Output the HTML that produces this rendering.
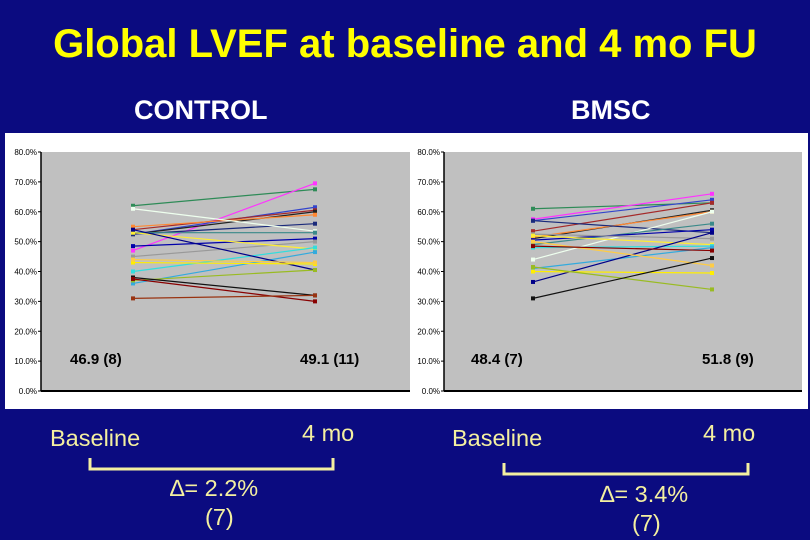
<!DOCTYPE html>
<html><head><meta charset="utf-8"><style>
body{margin:0;width:810px;height:540px;background:#0b0b80;overflow:hidden;font-family:"Liberation Sans",sans-serif;position:relative}
.t{position:absolute;white-space:nowrap}
</style></head><body>
<div class="t" style="left:0;width:810px;text-align:center;top:22px;font-size:40px;font-weight:bold;color:#ffff00">Global LVEF at baseline and 4 mo FU</div>
<div class="t" style="left:134px;top:95px;font-size:27px;font-weight:bold;color:#fff">CONTROL</div>
<div class="t" style="left:571px;top:95px;font-size:27px;font-weight:bold;color:#fff">BMSC</div>
<svg id="svg" width="810" height="540" style="position:absolute;left:0;top:0"></svg>
<div class="t" style="left:50px;top:425px;font-size:23.5px;color:#f4f0a0">Baseline</div>
<div class="t" style="left:302px;top:420px;font-size:23.5px;color:#f4f0a0">4 mo</div>
<div class="t" style="left:170px;top:475px;font-size:23.5px;color:#f4f0a0">∆= 2.2%</div>
<div class="t" style="left:205px;top:504px;font-size:23.5px;color:#f4f0a0">(7)</div>
<div class="t" style="left:452px;top:425px;font-size:23.5px;color:#f4f0a0">Baseline</div>
<div class="t" style="left:703px;top:420px;font-size:23.5px;color:#f4f0a0">4 mo</div>
<div class="t" style="left:600px;top:481px;font-size:23.5px;color:#f4f0a0">∆= 3.4%</div>
<div class="t" style="left:632px;top:510px;font-size:23.5px;color:#f4f0a0">(7)</div>
<script>
const yTicks=[0,10,20,30,40,50,60,70,80];
const controlBase=[62,47,52.5,54,52.5,55,52.5,61,53,48.5,45,53,40,36,54,43,44,37,38,37.5,31];
const controlFU=[67.5,69.5,61.5,60.5,60,59,56,53.5,53,51,50,47.5,48,46.5,40.5,42.5,43,40.5,32,30,32];
const bmscBase=[61,57.5,57,53.5,51,51.5,57,44,49,50.5,52.5,52,48,41,36.5,40,50,41.5,31,48.5];
const bmscFU=[63,66,64,63,60.5,60,53,60,56,54,51,49,48.5,48,53,39.5,42,34,44.5,47];
const controlMeans=["46.9 (8)","49.1 (11)"];
const bmscMeans=["48.4 (7)","51.8 (9)"];
const colors=["#2e8b57","#ff33ff","#3344cc","#a52a2a","#222222","#ff8833","#1a2a7a","#eeffee","#3a8a8a","#0000aa","#999999","#ffee33","#33dddd","#33aadd","#000088","#ffee00","#ffcc44","#99bb22","#111111","#880000","#993311"];
const svg=document.getElementById('svg');const NS='http://www.w3.org/2000/svg';
function mk(t,a){const e=document.createElementNS(NS,t);for(const k in a)e.setAttribute(k,a[k]);svg.appendChild(e);return e;}
const y=v=>391-v*(391-152)/80;
function panel(bx,bw,px,pw,x1,x2,base,fu,means,mx,nm){
 let r=mk('rect',{x:bx,y:133,width:bw,height:276,fill:'#fff'});
 
 r=mk('rect',{x:px,y:152,width:pw,height:239,fill:'#c0c0c0'});
 
 mk('line',{x1:px,y1:152,x2:px,y2:391,stroke:'#000','stroke-width':1.5});
 mk('line',{x1:px,y1:391,x2:px+pw,y2:391,stroke:'#000','stroke-width':2});
 yTicks.forEach(v=>{mk('line',{x1:px-3,y1:y(v),x2:px,y2:y(v),stroke:'#000'});
  const t=mk('text',{x:px-4,y:y(v)+3,'text-anchor':'end','font-size':8,'font-family':'Liberation Sans',fill:'#000'});t.textContent=v.toFixed(1)+'%';
  });
 base.forEach((b,i)=>{const l=mk('line',{x1:x1,y1:y(b),x2:x2,y2:y(fu[i]),stroke:colors[i%colors.length],'stroke-width':1.2});
  
  [[x1,b],[x2,fu[i]]].forEach(p=>{const c=mk('rect',{x:p[0]-2,y:y(p[1])-2,width:4,height:4,fill:colors[i%colors.length]});
   });});
 means.forEach((m,i)=>{const t=mk('text',{x:mx[i],y:364,'font-size':15,'font-weight':'bold','font-family':'Liberation Sans',fill:'#000'});t.textContent=m;
  });
}
panel(5,405,41,369,133,315,controlBase,controlFU,controlMeans,[70,300],'control');
panel(410,398,444,358,533,712,bmscBase,bmscFU,bmscMeans,[471,702],'bmsc');
let b=mk('polyline',{points:'90,458 90,469 333,469 333,458',fill:'none',stroke:'#f4f0a0','stroke-width':3});

b=mk('polyline',{points:'504,463 504,474 748,474 748,463',fill:'none',stroke:'#f4f0a0','stroke-width':3});

</script>
</body></html>
